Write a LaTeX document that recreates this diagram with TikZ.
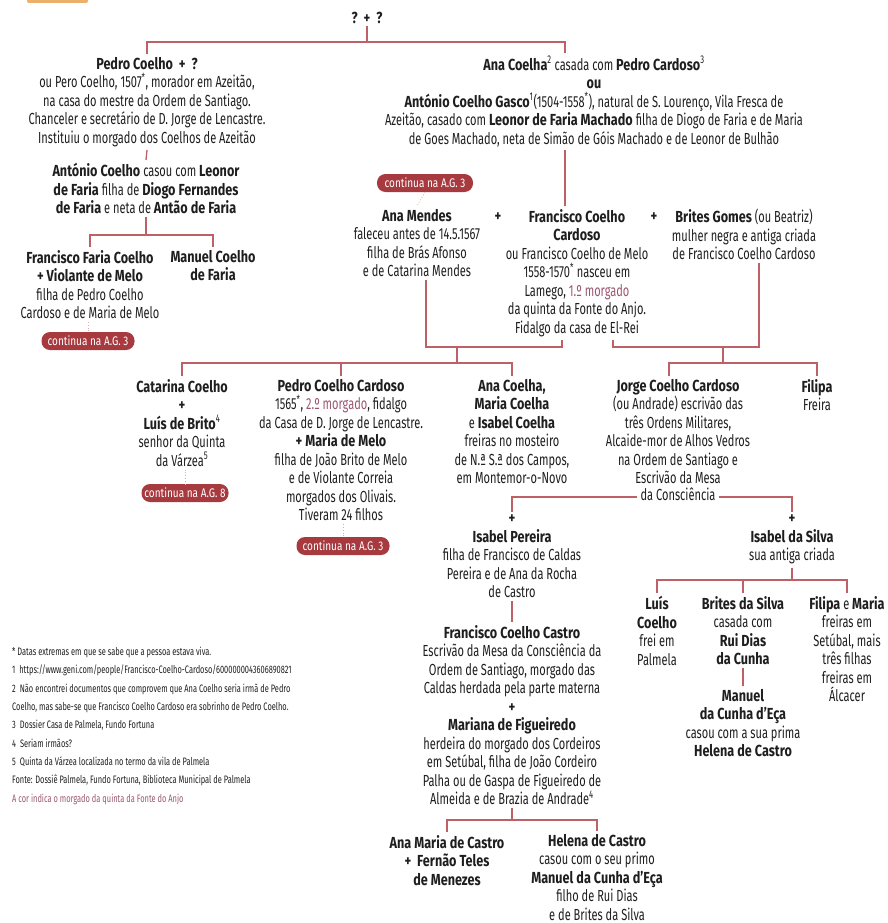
\documentclass[tikz,border=0pt]{standalone}
\usepackage{fontspec}
\setmainfont{Fira Sans}[FakeStretch=0.69, BoldFeatures={FakeStretch=0.79}]
\newfontfamily\pillfont{Fira Sans}[FakeStretch=0.8]
\usetikzlibrary{positioning}
\definecolor{linkred}{HTML}{BD6167}
\definecolor{pillred}{HTML}{A63A3F}
\definecolor{morgcol}{HTML}{9A5670}
\definecolor{ink}{HTML}{1E1E1E}
\definecolor{tabcol}{HTML}{EDB06A}
\newcommand{\mg}[1]{\textcolor{morgcol}{#1}}
\newcommand{\sus}[1]{\textsuperscript{#1}}

\begin{document}
\begin{tikzpicture}[x=1pt, y=-1pt,
  person/.style={anchor=north, align=center, inner sep=3pt, text=ink, font=\fontsize{16}{18.5}\selectfont},
  plus/.style={text=ink, inner sep=2pt, font=\fontsize{16}{18.5}\selectfont\bfseries},
  link/.style={draw=linkred, line width=1.3pt},
  more/.style={draw=linkred!55, dotted, line width=0.8pt},
  pill/.style={fill=pillred, text=white, rounded corners=8.5pt, minimum height=18pt, minimum width=93pt, inner sep=0pt, font=\pillfont\fontsize{12.5}{14}\selectfont},
  notes/.style={anchor=north west, align=left, inner sep=0pt, text=ink, font=\fontsize{10.8}{18.3}\selectfont}]
 \useasboundingbox (0,0) rectangle (888,923);
 \fill[tabcol, rounded corners=2pt] (27,-6) rectangle (88,3);

 \node[plus] (qq) at (367,18) {?\ \ +\ \ ?};
 \node[person] (pedro) at (147,54) {\textbf{Pedro Coelho\ \ +\ \ ?}\\ ou Pero Coelho, 1507\sus{*}, morador em Azeitão,\\ na casa do mestre da Ordem de Santiago.\\ Chanceler e secretário de D. Jorge de Lencastre.\\ Instituiu o morgado dos Coelhos de Azeitão};
 \node[person] (antonio) at (146,160) {\textbf{António Coelho} casou com \textbf{Leonor}\\ \textbf{de Faria} filha de \textbf{Diogo Fernandes}\\ \textbf{de Faria} e neta de \textbf{Antão de Faria}};
 \node[person] (franfaria) at (90,247) {\textbf{Francisco Faria Coelho}\\ \textbf{+ Violante de Melo}\\ filha de Pedro Coelho\\ Cardoso e de Maria de Melo};
 \node[person] (manuel) at (213,247) {\textbf{Manuel Coelho}\\ \textbf{de Faria}};
 \node[pill] (pill1) at (88,341) {continua na A.G. 3};

 \node[person] (anacoelha) at (594,53) {\textbf{Ana Coelha}\sus{2} casada com \textbf{Pedro Cardoso}\sus{3}\\ \textbf{ou}\\ \textbf{António Coelho Gasco}\sus{1}(1504-1558\sus{*}), natural de S. Lourenço, Vila Fresca de\\ Azeitão, casado com \textbf{Leonor de Faria Machado} filha de Diogo de Faria e de Maria\\ de Goes Machado, neta de Simão de Góis Machado e de Leonor de Bulhão};
 \node[pill, minimum width=96pt] (pill2) at (425,183) {continua na A.G. 3};
 \node[person] (anamendes) at (417,206) {\textbf{Ana Mendes}\\ faleceu antes de 14.5.1567\\ filha de Brás Afonso\\ e de Catarina Mendes};
 \node[plus] (plus1) at (498,217) {+};
 \node[person] (francisco) at (577,206) {\textbf{Francisco Coelho}\\ \textbf{Cardoso}\\ ou Francisco Coelho de Melo\\ 1558-1570\sus{*} nasceu em\\ Lamego, \mg{1.º morgado}\\ da quinta da Fonte do Anjo.\\ Fidalgo da casa de El-Rei};
 \node[plus] (plus2) at (654,217) {+};
 \node[person] (brites) at (744,206) {\textbf{Brites Gomes} (ou Beatriz)\\ mulher negra e antiga criada\\ de Francisco Coelho Cardoso};

 \node[person] (catarina) at (182,376) {\textbf{Catarina Coelho}\\ \textbf{+}\\ \textbf{Luís de Brito}\sus{4}\\ senhor da Quinta\\ da Várzea\sus{5}};
 \node[pill, minimum width=87pt] (pill3) at (185,493) {continua na A.G. 8};
 \node[person] (pedrocc) at (341,376) {\textbf{Pedro Coelho Cardoso}\\ 1565\sus{*}, \mg{2.º morgado}, fidalgo\\ da Casa de D. Jorge de Lencastre.\\ \textbf{+ Maria de Melo}\\ filha de João Brito de Melo\\ e de Violante Correia\\ morgados dos Olivais.\\ Tiveram 24 filhos};
 \node[pill] (pill4) at (343,546) {continua na A.G. 3};
 \node[person] (freiras) at (512,376) {\textbf{Ana Coelha,}\\ \textbf{Maria Coelha}\\ e \textbf{Isabel Coelha}\\ freiras no mosteiro\\ de N.ª S.ª dos Campos,\\ em Montemor-o-Novo};
 \node[person] (jorge) at (678,376) {\textbf{Jorge Coelho Cardoso}\\ (ou Andrade) escrivão das\\ três Ordens Militares,\\ Alcaide-mor de Alhos Vedros\\ na Ordem de Santiago e\\ Escrivão da Mesa};
 \node[person, below=-3pt of jorge] (jorgeEnd) {da Consciência};
 \node[person] (filipa) at (817,376) {\textbf{Filipa}\\ Freira};

 \node[person] (isabelp) at (512,512) {\textbf{+}\\ \textbf{Isabel Pereira}\\ filha de Francisco de Caldas\\ Pereira e de Ana da Rocha\\ de Castro};
 \node[person] (isabels) at (792,512) {\textbf{+}\\ \textbf{Isabel da Silva}\\ sua antiga criada};
 \node[person] (fcastro) at (512,622) {\textbf{Francisco Coelho Castro}\\ Escrivão da Mesa da Consciência da\\ Ordem de Santiago, morgado das\\ Caldas herdada pela parte materna\\ \textbf{+}\\ \textbf{Mariana de Figueiredo}\\ herdeira do morgado dos Cordeiros\\ em Setúbal, filha de João Cordeiro\\ Palha ou de Gaspa de Figueiredo de\\ Almeida e de Brazia de Andrade\sus{4}};
 \node[person] (anamaria) at (447,832) {\textbf{Ana Maria de Castro}\\ \textbf{+\ \ Fernão Teles}\\ \textbf{de Menezes}};
 \node[person] (helena) at (597,831) {\textbf{Helena de Castro}\\ casou com o seu primo\\ \textbf{Manuel da Cunha d’Eça}\\ filho de Rui Dias\\ e de Brites da Silva};
 \node[person] (luis) at (657,593) {\textbf{Luís}\\ \textbf{Coelho}\\ frei em\\ Palmela};
 \node[person] (britess) at (743,593) {\textbf{Brites da Silva}\\ casada com\\ \textbf{Rui Dias}\\ \textbf{da Cunha}};
 \node[person] (manuelc) at (743,686) {\textbf{Manuel}\\ \textbf{da Cunha d’Eça}\\ casou com a sua prima\\ \textbf{Helena de Castro}};
 \node[person] (filipam) at (847,593) {\textbf{Filipa} e \textbf{Maria}\\ freiras em\\ Setúbal, mais\\ três filhas\\ freiras em\\ Álcacer};

 \node[notes] (notas) at (12,647) {* Datas extremas em que se sabe que a pessoa estava viva.\\ 1\ \ https://www.geni.com/people/Francisco-Coelho-Cardoso/6000000043606890821\\ 2\ \ Não encontrei documentos que comprovem que Ana Coelho seria irmã de Pedro\\ Coelho, mas sabe-se que Francisco Coelho Cardoso era sobrinho de Pedro Coelho.\\ 3\ \ Dossier Casa de Palmela, Fundo Fortuna\\ 4\ \ Seriam irmãos?\\ 5\ \ Quinta da Várzea localizada no termo da vila de Palmela\\ Fonte: Dossiê Palmela, Fundo Fortuna, Biblioteca Municipal de Palmela\\ \mg{A cor indica o morgado da quinta da Fonte do Anjo}};

 \coordinate (topbus) at (367,42);
 \coordinate (acx) at (565,0);
 \coordinate (antbus) at (143,235);
 \coordinate (amx) at (426,0);
 \coordinate (fcx) at (562,0);
 \coordinate (fcx2) at (613,0);
 \coordinate (bgx) at (759,0);
 \coordinate (jgx) at (669,0);
 \coordinate (pairA) at (457,347);
 \coordinate (pairB) at (723,347);
 \coordinate (kidsA) at (457,363);
 \coordinate (kidsB) at (723,363);
 \coordinate (silvabus) at (792,580);
 \coordinate (castbus) at (512,820);

 \draw[link] (qq.south) -- (topbus);
 \draw[link] (pedro.north) |- (topbus) -| (anacoelha.north -| acx);
 \draw[link] (pedro.south) -- (antonio.north);
 \draw[link] (antonio.south) -- (antonio.south |- antbus);
 \draw[link] (franfaria.north) |- (antbus) -| (manuel.north);
 \draw[more] (franfaria.south -| pill1) -- (pill1.north);
 \draw[link] (anacoelha.south -| acx) -- (francisco.north -| acx);
 \draw[more] (pill2.south) -- (anamendes.north);
 \draw[link] (anamendes.south -| amx) |- (pairA) -| (francisco.south -| fcx);
 \draw[link] (francisco.south -| fcx2) |- (pairB) -| (brites.south -| bgx);
 \draw[link] (pairA) -- (kidsA);
 \draw[link] (pairB) -- (kidsB);
 \draw[link] (catarina.north) |- (kidsA) -| (freiras.north);
 \draw[link] (pedrocc.north) -- (pedrocc.north |- kidsA);
 \draw[link] (jorge.north -| jgx) |- (kidsB) -| (filipa.north);
 \draw[more] (catarina.south -| pill3) -- (pill3.north);
 \draw[more] (pedrocc.south -| pill4) -- (pill4.north);
 \draw[link] (isabelp.north) |- ([yshift=-3pt]jorgeEnd.west);
 \draw[link] ([yshift=-3pt]jorgeEnd.east) -| (isabels.north);
 \draw[link] (isabelp.south) -- (fcastro.north);
 \draw[link] (fcastro.south) -- (castbus);
 \draw[link] (anamaria.north) |- (castbus) -| (helena.north);
 \draw[link] (isabels.south) -- (silvabus);
 \draw[link] (luis.north) |- (silvabus) -| (filipam.north);
 \draw[link] (britess.north) -- (britess.north |- silvabus);
 \draw[link] (britess.south) -- (manuelc.north);
\end{tikzpicture}
\end{document}
